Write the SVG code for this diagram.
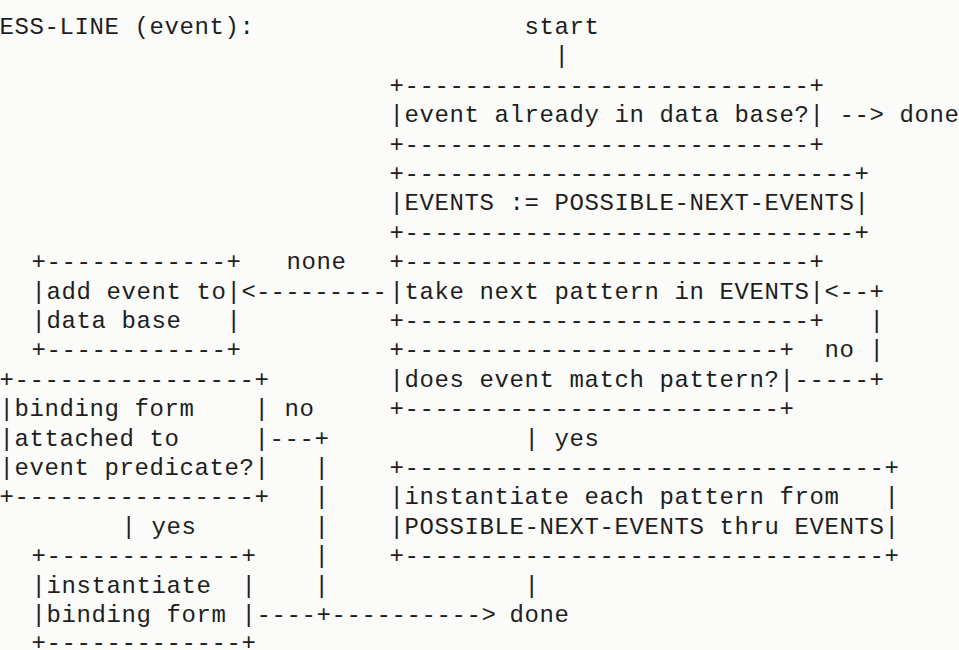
<svg xmlns="http://www.w3.org/2000/svg" width="959" height="650" viewBox="0 0 959 650">
<style>
text{font-family:"Liberation Mono","DejaVu Sans Mono",monospace;font-size:24px;letter-spacing:0.6px;fill:#1e1e1e}
</style>
<rect width="959" height="650" fill="#fbfbf9"/>
<g id="title"><text x="-0.5" y="34">ESS-LINE (event):</text></g>
<g id="start"><text x="524.5" y="34">start</text></g>
<g id="n-in-db">
<text x="389.5" y="92.8">+---------------------------+</text>
<text x="389.5" y="122.2">|event already in data base?|</text>
<text x="389.5" y="151.6">+---------------------------+</text>
</g>
<g id="done-1"><text x="899.5" y="122.2">done</text></g>
<g id="n-events">
<text x="389.5" y="181">+------------------------------+</text>
<text x="389.5" y="210.4">|EVENTS := POSSIBLE-NEXT-EVENTS|</text>
<text x="389.5" y="239.8">+------------------------------+</text>
</g>
<g id="n-take">
<text x="389.5" y="269.2">+---------------------------+</text>
<text x="389.5" y="298.6">|take next pattern in EVENTS|</text>
<text x="389.5" y="328">+---------------------------+</text>
</g>
<g id="n-match">
<text x="389.5" y="357.4">+-------------------------+</text>
<text x="389.5" y="386.8">|does event match pattern?|</text>
<text x="389.5" y="416.2">+-------------------------+</text>
</g>
<g id="n-inst-each">
<text x="389.5" y="475">+--------------------------------+</text>
<text x="389.5" y="504.4">|instantiate each pattern from</text>
<text x="884.5" y="504.4">|</text>
<text x="389.5" y="533.8">|POSSIBLE-NEXT-EVENTS thru EVENTS|</text>
<text x="389.5" y="563.2">+--------------------------------+</text>
</g>
<g id="n-add">
<text x="31.5" y="269.2">+------------+</text>
<text x="31.5" y="298.6">|add event to|</text>
<text x="31.5" y="328">|data base</text>
<text x="226.5" y="328">|</text>
<text x="31.5" y="357.4">+------------+</text>
</g>
<g id="n-binding">
<text x="-0.5" y="386.8">+----------------+</text>
<text x="-0.5" y="416.2">|binding form</text>
<text x="254.5" y="416.2">|</text>
<text x="-0.5" y="445.6">|attached to</text>
<text x="254.5" y="445.6">|</text>
<text x="-0.5" y="475">|event predicate?|</text>
<text x="-0.5" y="504.4">+----------------+</text>
</g>
<g id="n-inst-binding">
<text x="31.5" y="563.2">+-------------+</text>
<text x="31.5" y="592.6">|instantiate</text>
<text x="241.5" y="592.6">|</text>
<text x="31.5" y="622">|binding form</text>
<text x="241.5" y="622">|</text>
<text x="31.5" y="649.5">+-------------+</text>
</g>
<g id="done-2"><text x="509.5" y="622">done</text></g>
<g id="connectors">
<text x="554.5" y="63.4">|</text>
<text x="839.5" y="122.2">--&gt;</text>
<text x="286.5" y="269.2">none</text>
<text x="241.5" y="298.6" textLength="146" lengthAdjust="spacing">&lt;---------</text>
<text x="824.5" y="298.6">&lt;--+</text>
<text x="869.5" y="328">|</text>
<text x="824.5" y="357.4">no</text>
<text x="869.5" y="357.4">|</text>
<text x="794.5" y="386.8">-----+</text>
<text x="284.5" y="416.2">no</text>
<text x="269.5" y="445.6">---+</text>
<text x="524.5" y="445.6">|</text>
<text x="554.5" y="445.6">yes</text>
<text x="314.5" y="475">|</text>
<text x="314.5" y="504.4">|</text>
<text x="121.5" y="533.8">|</text>
<text x="151.5" y="533.8">yes</text>
<text x="314.5" y="533.8">|</text>
<text x="314.5" y="563.2">|</text>
<text x="314.5" y="592.6">|</text>
<text x="524.5" y="592.6">|</text>
<text x="256.5" y="622">----+----------&gt;</text>
</g>
</svg>
